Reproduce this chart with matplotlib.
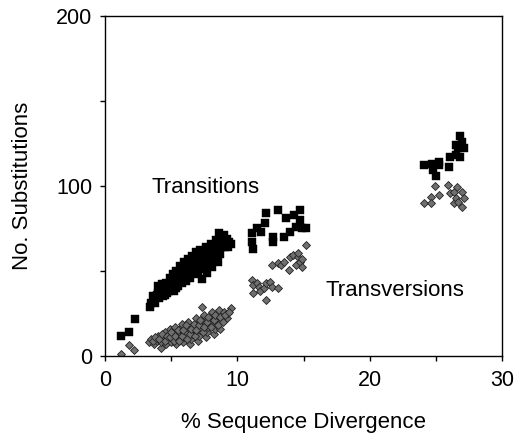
import matplotlib
matplotlib.use('Agg')
import matplotlib.pyplot as plt
from matplotlib.ticker import MultipleLocator

plt.rcParams['font.family'] = ['Liberation Sans', 'DejaVu Sans']

# Transitions (black squares)
ts_x = [1.2, 1.8, 2.3, 3.4, 3.5, 3.7, 3.9, 4.0, 4.1, 4.2, 4.3, 4.4, 4.5, 4.6, 4.7, 4.8,
        4.9, 5.0, 5.0, 5.1, 5.2, 5.2, 5.3, 5.4, 5.5, 5.5, 5.6, 5.7, 5.8, 5.8, 5.9, 6.0,
        6.1, 6.1, 6.2, 6.3, 6.4, 6.4, 6.5, 6.6, 6.7, 6.7, 6.8, 6.9, 7.0, 7.0, 7.1, 7.2,
        7.3, 7.3, 7.4, 7.5, 7.6, 7.7, 7.7, 7.8, 7.9, 8.0, 8.1, 8.1, 8.2, 8.3, 8.4, 8.5,
        8.5, 8.6, 8.7, 8.7, 8.8, 8.9, 9.0, 9.1, 9.2, 9.4, 9.5,
        3.6, 3.8, 4.0, 4.3, 4.5, 4.6, 4.8, 4.9, 5.1, 5.3, 5.4, 5.6, 5.7, 5.9, 6.0, 6.2,
        6.3, 6.5, 6.6, 6.8, 6.9, 7.1, 7.2, 7.4, 7.5, 7.6, 7.8, 8.0, 8.2, 8.3, 8.4, 8.6,
        8.8, 9.0, 9.2, 9.3,
        11.1, 11.1, 11.2, 11.5, 11.8, 12.1, 12.2, 12.7, 12.7, 13.1, 13.5, 13.7, 14.0,
        14.3, 14.4, 14.75, 14.75, 14.9, 15.2,
        24.1, 24.7, 24.8, 25.0, 25.2, 25.2, 26.0, 26.1, 26.5, 26.85, 26.5, 26.85, 27.0,
        27.1, 26.7]
ts_y = [12, 14, 21.5, 29, 31, 33, 36, 41, 34, 38, 42, 35, 39, 43, 37, 41,
        46, 39, 44, 48, 38, 42, 46, 50, 41, 45, 48, 53, 43, 47, 51, 55,
        44, 49, 53, 57, 46, 51, 55, 59, 48, 53, 57, 61, 50, 55, 59, 62,
        45, 53, 57, 61, 64, 49, 55, 59, 63, 66, 52, 57, 61, 65, 68, 55,
        62, 72, 60, 69, 64, 70, 67, 64, 69, 67, 66,
        35, 31, 37, 39, 36, 40, 38, 43, 41, 44, 40, 44, 49, 45, 49, 46,
        51, 49, 54, 51, 55, 53, 57, 55, 59, 51, 56, 58, 63, 59, 57, 64,
        67, 71, 66, 64,
        72, 67, 63, 75, 73, 78, 84, 70, 67, 86, 70, 81, 73,
        83, 76, 86, 80, 75, 75,
        112, 113, 109, 106, 114, 112, 111, 117, 118, 117, 124, 129, 126,
        122, 122]

# Transversions (grey diamonds)
tv_x = [1.2, 1.8, 2.2, 3.3, 3.5, 3.7, 3.9, 4.0, 4.2, 4.2, 4.4, 4.5, 4.6, 4.7, 4.8, 4.9,
        5.0, 5.1, 5.2, 5.3, 5.4, 5.5, 5.6, 5.7, 5.8, 5.9, 6.0, 6.1, 6.2, 6.3, 6.4, 6.5,
        6.6, 6.7, 6.8, 6.9, 7.0, 7.1, 7.2, 7.3, 7.3, 7.4, 7.5, 7.6, 7.7, 7.8, 7.9, 8.0,
        8.1, 8.2, 8.3, 8.4, 8.5, 8.6, 8.7, 8.8, 8.9, 9.0, 9.2, 9.3, 9.5,
        3.6, 3.8, 4.1, 4.3, 4.5, 4.7, 4.9, 5.0, 5.2, 5.3, 5.5, 5.6, 5.8, 5.9, 6.1, 6.2,
        6.4, 6.5, 6.7, 6.8, 6.9, 7.1, 7.2, 7.4, 7.5, 7.7, 7.8, 8.0, 8.2, 8.3, 8.5, 8.7,
        8.9, 9.1, 9.4,
        11.1, 11.2, 11.2, 11.5, 11.6, 11.7, 12.0, 12.2, 12.5, 12.6, 13.1, 12.2,
        12.6, 13.1, 13.3, 13.5, 13.9, 14.0, 14.2, 14.4, 14.6, 14.6, 14.75, 14.9, 14.9, 15.2,
        24.1, 24.6, 24.6, 24.95, 25.2, 25.95, 26.1, 26.35, 26.35, 26.5, 26.6, 26.7, 27.0,
        27.0, 27.1]
tv_y = [1, 6.5, 3.5, 8, 10, 7, 9, 12, 4.5, 8, 11, 14, 7, 10, 13, 16,
        8, 11, 14, 17, 7, 10, 13, 16, 19, 8, 11, 14, 17, 20, 7, 10,
        13, 16, 19, 22, 9, 12, 15, 18, 29, 21, 24, 11, 14, 17, 20, 23,
        26, 13, 16, 19, 22, 27, 16, 20, 23, 26, 22, 25, 28,
        9, 11, 10, 13, 9, 12, 11, 14, 9, 12, 15, 9, 12, 15, 18, 10,
        13, 16, 19, 12, 15, 18, 21, 14, 17, 20, 23, 17, 21, 24, 18, 23,
        20, 24, 26,
        44.6, 41.7, 36.8, 42.7, 40.7, 38, 39.7, 42.7, 43.6, 40.7, 39.7, 33,
        53.4, 54.4, 53.4, 55.4, 50.5, 58.3, 59.3, 53.4, 58.3, 60.3, 55.4, 52.4, 57, 65,
        89.7, 93.5, 89.7, 100, 94.4, 100.4, 95.6, 96.5, 89.7, 92.6, 99.4, 90.7, 96.5,
        87.7, 92.6]

fig = plt.figure(figsize=(5.16, 4.33), dpi=100)
ax = fig.add_axes([0.2035, 0.178, 0.7695, 0.786])

ax.plot(tv_x, tv_y, linestyle='none', marker='D', markersize=3.8,
        markerfacecolor='#6f6f6f', markeredgecolor='#222222', markeredgewidth=0.6)
ax.plot(ts_x, ts_y, linestyle='none', marker='s', markersize=5.2,
        markerfacecolor='black', markeredgecolor='black', markeredgewidth=0.3)

ax.set_xlim(0, 30)
ax.set_ylim(0, 200)
ax.xaxis.set_major_locator(MultipleLocator(10))
ax.xaxis.set_minor_locator(MultipleLocator(5))
ax.yaxis.set_major_locator(MultipleLocator(100))
ax.yaxis.set_minor_locator(MultipleLocator(50))
ax.tick_params(which='both', direction='out', length=3.8, width=1, labelsize=15.5,
               top=False, right=False, colors='black')
ax.tick_params(axis='x', which='both', pad=6.5)
ax.tick_params(axis='y', which='both', pad=5.5)
for s in ax.spines.values():
    s.set_linewidth(1)

ax.set_xlabel('% Sequence Divergence', fontsize=16, va='center')
ax.xaxis.set_label_coords(0.5, -0.195)
ax.set_ylabel('No. Substitutions', fontsize=16, va='center')
ax.yaxis.set_label_coords(-0.209, 0.5)

ax.text(7.6, 99, 'Transitions', fontsize=16, ha='center', va='center')
ax.text(21.9, 38.5, 'Transversions', fontsize=16, ha='center', va='center')

fig.savefig('out.png', dpi=100)
